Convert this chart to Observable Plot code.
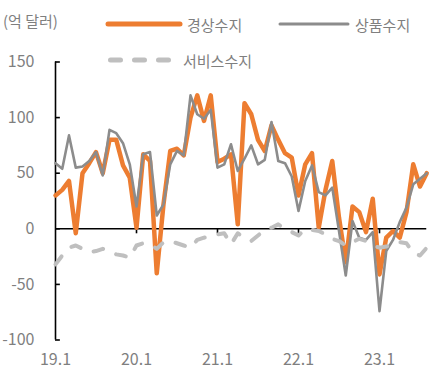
<!DOCTYPE html>
<html><head><meta charset="utf-8">
<script src="https://cdn.jsdelivr.net/npm/d3@7"></script>
<script src="https://cdn.jsdelivr.net/npm/@observablehq/plot@0.6"></script>
<style>
body{margin:0;background:#fff;}
#wrap{position:relative;width:430px;height:390px;font-family:"Noto Sans CJK KR",sans-serif;}
#legend{position:absolute;left:0;top:0;pointer-events:none;}
</style></head><body><div id="wrap"></div>
<script>
const startYear = 2019;
const currentAccount = [30, 35, 43, -4, 50, 59, 69, 50, 80, 80, 57, 46,
  1, 67, 61, -40, 22, 70, 72, 66, 100, 120, 97, 120,
  60, 63, 67, 4, 113, 103, 80, 70, 93, 80, 68, 64,
  30, 58, 68, 1, 35, 61, 10, -30, 20, 15, -3, 27,
  -41, -8, -2, -8, 15, 58, 38, 50];
const goodsBalance = [59, 54, 84, 55, 56, 61, 69, 48, 89, 86, 77, 58,
  20, 67, 69, 12, 22, 58, 70, 66, 120, 103, 99, 107,
  55, 58, 76, 52, 63, 75, 58, 62, 96, 61, 59, 47,
  16, 43, 57, 33, 30, 37, -2, -42, 7, -8, -10, -3,
  -74, -20, -10, 6, 19, 40, 45, 50];
const servicesBalance = [-32, -24, -17, -15, -18, -21, -20, -18, -20, -23, -24, -26,
  -15, -13, -14, -18, -12, -11, -13, -15, -17, -10, -8, -7,
  -5, -4, -14, -4, -8, -11, -6, -1, 1, 4, 0, -3,
  -6, 0, -1, -2, -5, -9, -11, -15, -12, -9, -11, -15,
  -17, -16, -14, -12, -13, -22, -24, -17];
const tickYears = [2019, 2020, 2021, 2022, 2023];
const tickLabels = ["19.1", "20.1", "21.1", "22.1", "23.1"];
const yTicks = [-100, -50, 0, 50, 100, 150];
const seriesNames = ["경상수지", "상품수지", "서비스수지"];
const unitLabel = "(억 달러)";

const colors = {ca: "#ED7D31", goods: "#8C8C8C", svc: "#BFBFBF"};
const textColor = "#7f7f7f";
const font = '"Noto Sans CJK KR", sans-serif';

const n = currentAccount.length;
const xMax = startYear + (n - 1) / 12;
const rows = vals => vals.map((v, i) => ({t: startYear + i / 12, v}));

const chart = Plot.plot({
  width: 430, height: 390,
  marginTop: 61.5, marginBottom: 50.5, marginLeft: 55, marginRight: 3.75,
  style: {fontFamily: font, fontSize: "16px", color: textColor, background: "transparent", overflow: "visible"},
  x: {domain: [startYear, xMax]},
  y: {domain: [-100, 150]},
  marks: [
    Plot.axisY({ticks: yTicks, tickSize: 0, tickPadding: 21, fill: textColor, fontSize: 16, label: null, tickFormat: d => String(d)}),
    Plot.axisX({ticks: tickYears, tickSize: 0, tickPadding: 14, fill: textColor, fontSize: 16, label: null, tickFormat: d => tickLabels[tickYears.indexOf(d)]}),
    Plot.ruleX([startYear], {y1: -100, y2: 150, stroke: "#000", strokeWidth: 1.6}),
    Plot.ruleY(yTicks, {y: d => d, x1: startYear, x2: startYear + 0.06, stroke: "#000", strokeWidth: 1.6}),
    Plot.ruleY([0], {stroke: "#000", strokeWidth: 1.6}),
    Plot.ruleX(tickYears.slice(1), {x: d => d, y1: 0, y2: -4.5, stroke: "#000", strokeWidth: 1.6}),
    Plot.line(rows(currentAccount), {x: "t", y: "v", stroke: colors.ca, strokeWidth: 4.5}),
    Plot.line(rows(goodsBalance), {x: "t", y: "v", stroke: colors.goods, strokeWidth: 2.6}),
    Plot.line(rows(servicesBalance), {x: "t", y: "v", stroke: colors.svc, strokeWidth: 4, strokeDasharray: "10,14", strokeLinecap: "round"})
  ]
});
const wrap = document.getElementById("wrap");
wrap.appendChild(chart);

// legend overlay
const svg = d3.select(wrap).append("svg").attr("id", "legend").attr("width", 430).attr("height", 390)
  .style("font-family", font);
svg.append("text").attr("x", 3).attr("y", 20).attr("dominant-baseline", "central")
  .attr("fill", textColor).attr("font-size", 15).text(unitLabel);
const legendItems = [
  {name: seriesNames[0], x: 108, y: 24, stroke: colors.ca, w: 5, dash: null},
  {name: seriesNames[1], x: 280, y: 24, stroke: colors.goods, w: 3, dash: null},
  {name: seriesNames[2], x: 108, y: 60, stroke: colors.svc, w: 5, dash: "10,14"}
];
for (const it of legendItems) {
  const len = it.name === seriesNames[1] ? 68 : 72;
  const ln = svg.append("line").attr("x1", it.x + (it.dash ? 2.5 : 0)).attr("x2", it.x + len)
    .attr("y1", it.y).attr("y2", it.y).attr("stroke", it.stroke).attr("stroke-width", it.w)
    .attr("stroke-linecap", "round");
  if (it.dash) ln.attr("stroke-dasharray", it.dash);
  svg.append("text").attr("x", it.x + len + (it.dash ? 3 : 7)).attr("y", it.y)
    .attr("dominant-baseline", "central").attr("fill", textColor).attr("font-size", 15).text(it.name);
}
</script></body></html>
